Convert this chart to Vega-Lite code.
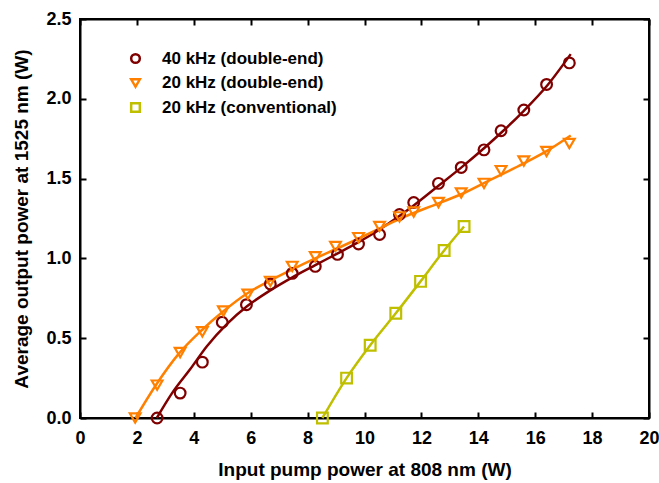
{
  "$schema": "https://vega.github.io/schema/vega-lite/v6.json",
  "width": 569,
  "height": 399,
  "autosize": {"type": "none"},
  "padding": {"left": 80, "top": 19, "right": 10, "bottom": 65},
  "background": "white",
  "config": {
    "view": {"stroke": "black", "strokeWidth": 2},
    "font": "Liberation Sans",
    "axis": {
      "labelFont": "Liberation Sans",
      "labelFontSize": 18,
      "labelFontWeight": "bold",
      "labelColor": "black",
      "labelFlush": false,
      "titleFont": "Liberation Sans",
      "titleFontSize": 19,
      "titleFontWeight": "bold",
      "titleColor": "black",
      "domainColor": "black",
      "domainWidth": 2,
      "tickColor": "black",
      "tickWidth": 2,
      "tickSize": -6,
      "grid": false
    },
    "legend": {
      "orient": "none",
      "legendX": 47,
      "legendY": 31,
      "title": null,
      "padding": 0,
      "symbolSize": 75,
      "symbolStrokeWidth": 2.5,
      "labelFont": "Liberation Sans",
      "labelFontSize": 17,
      "labelFontWeight": "bold",
      "labelColor": "black",
      "labelOffset": 18,
      "rowPadding": 5.5,
      "labelLimit": 400
    }
  },
  "datasets": {
    "fits": [
      {"series": "40 kHz (double-end)", "x": 2.7, "y": 0.0},
      {"series": "40 kHz (double-end)", "x": 3.23, "y": 0.154},
      {"series": "40 kHz (double-end)", "x": 3.87, "y": 0.305},
      {"series": "40 kHz (double-end)", "x": 4.46, "y": 0.45},
      {"series": "40 kHz (double-end)", "x": 5.17, "y": 0.59},
      {"series": "40 kHz (double-end)", "x": 5.87, "y": 0.7},
      {"series": "40 kHz (double-end)", "x": 6.69, "y": 0.8},
      {"series": "40 kHz (double-end)", "x": 7.45, "y": 0.88},
      {"series": "40 kHz (double-end)", "x": 8.27, "y": 0.958},
      {"series": "40 kHz (double-end)", "x": 9.04, "y": 1.03},
      {"series": "40 kHz (double-end)", "x": 9.74, "y": 1.097},
      {"series": "40 kHz (double-end)", "x": 10.45, "y": 1.172},
      {"series": "40 kHz (double-end)", "x": 11.2, "y": 1.262},
      {"series": "40 kHz (double-end)", "x": 11.74, "y": 1.333},
      {"series": "40 kHz (double-end)", "x": 12.6, "y": 1.455},
      {"series": "40 kHz (double-end)", "x": 13.44, "y": 1.575},
      {"series": "40 kHz (double-end)", "x": 14.23, "y": 1.695},
      {"series": "40 kHz (double-end)", "x": 14.85, "y": 1.795},
      {"series": "40 kHz (double-end)", "x": 15.6, "y": 1.925},
      {"series": "40 kHz (double-end)", "x": 16.43, "y": 2.085},
      {"series": "40 kHz (double-end)", "x": 17.25, "y": 2.28},
      {"series": "20 kHz (double-end)", "x": 1.95, "y": 0.0},
      {"series": "20 kHz (double-end)", "x": 2.7, "y": 0.215},
      {"series": "20 kHz (double-end)", "x": 3.46, "y": 0.4},
      {"series": "20 kHz (double-end)", "x": 4.28, "y": 0.55},
      {"series": "20 kHz (double-end)", "x": 5.05, "y": 0.67},
      {"series": "20 kHz (double-end)", "x": 5.87, "y": 0.78},
      {"series": "20 kHz (double-end)", "x": 6.69, "y": 0.862},
      {"series": "20 kHz (double-end)", "x": 7.45, "y": 0.93},
      {"series": "20 kHz (double-end)", "x": 8.27, "y": 1.0},
      {"series": "20 kHz (double-end)", "x": 9.04, "y": 1.062},
      {"series": "20 kHz (double-end)", "x": 9.74, "y": 1.12},
      {"series": "20 kHz (double-end)", "x": 10.5, "y": 1.185},
      {"series": "20 kHz (double-end)", "x": 11.2, "y": 1.245},
      {"series": "20 kHz (double-end)", "x": 12.6, "y": 1.345},
      {"series": "20 kHz (double-end)", "x": 13.44, "y": 1.405},
      {"series": "20 kHz (double-end)", "x": 14.23, "y": 1.475},
      {"series": "20 kHz (double-end)", "x": 15.6, "y": 1.595},
      {"series": "20 kHz (double-end)", "x": 16.43, "y": 1.675},
      {"series": "20 kHz (double-end)", "x": 17.25, "y": 1.77},
      {"series": "20 kHz (conventional)", "x": 8.52, "y": 0.0},
      {"series": "20 kHz (conventional)", "x": 9.37, "y": 0.25},
      {"series": "20 kHz (conventional)", "x": 10.2, "y": 0.456},
      {"series": "20 kHz (conventional)", "x": 11.1, "y": 0.656},
      {"series": "20 kHz (conventional)", "x": 11.97, "y": 0.856},
      {"series": "20 kHz (conventional)", "x": 12.8, "y": 1.05},
      {"series": "20 kHz (conventional)", "x": 13.5, "y": 1.2}
    ],
    "points": [
      {"series": "40 kHz (double-end)", "x": 2.71, "y": 0.0},
      {"series": "40 kHz (double-end)", "x": 3.52, "y": 0.156},
      {"series": "40 kHz (double-end)", "x": 4.3, "y": 0.35},
      {"series": "40 kHz (double-end)", "x": 5.0, "y": 0.6},
      {"series": "40 kHz (double-end)", "x": 5.85, "y": 0.71},
      {"series": "40 kHz (double-end)", "x": 6.69, "y": 0.84},
      {"series": "40 kHz (double-end)", "x": 7.46, "y": 0.906},
      {"series": "40 kHz (double-end)", "x": 8.27, "y": 0.95},
      {"series": "40 kHz (double-end)", "x": 9.05, "y": 1.025},
      {"series": "40 kHz (double-end)", "x": 9.79, "y": 1.09},
      {"series": "40 kHz (double-end)", "x": 10.53, "y": 1.15},
      {"series": "40 kHz (double-end)", "x": 11.23, "y": 1.275},
      {"series": "40 kHz (double-end)", "x": 11.73, "y": 1.35},
      {"series": "40 kHz (double-end)", "x": 12.6, "y": 1.47},
      {"series": "40 kHz (double-end)", "x": 13.4, "y": 1.57},
      {"series": "40 kHz (double-end)", "x": 14.2, "y": 1.68},
      {"series": "40 kHz (double-end)", "x": 14.8, "y": 1.8},
      {"series": "40 kHz (double-end)", "x": 15.6, "y": 1.93},
      {"series": "40 kHz (double-end)", "x": 16.4, "y": 2.09},
      {"series": "40 kHz (double-end)", "x": 17.2, "y": 2.225},
      {"series": "20 kHz (double-end)", "x": 1.94, "y": 0.0},
      {"series": "20 kHz (double-end)", "x": 2.71, "y": 0.206},
      {"series": "20 kHz (double-end)", "x": 3.52, "y": 0.41},
      {"series": "20 kHz (double-end)", "x": 4.3, "y": 0.54},
      {"series": "20 kHz (double-end)", "x": 5.04, "y": 0.67},
      {"series": "20 kHz (double-end)", "x": 5.9, "y": 0.775},
      {"series": "20 kHz (double-end)", "x": 6.69, "y": 0.856},
      {"series": "20 kHz (double-end)", "x": 7.46, "y": 0.95},
      {"series": "20 kHz (double-end)", "x": 8.27, "y": 1.01},
      {"series": "20 kHz (double-end)", "x": 8.98, "y": 1.075},
      {"series": "20 kHz (double-end)", "x": 9.79, "y": 1.13},
      {"series": "20 kHz (double-end)", "x": 10.53, "y": 1.2},
      {"series": "20 kHz (double-end)", "x": 11.23, "y": 1.26},
      {"series": "20 kHz (double-end)", "x": 11.73, "y": 1.29},
      {"series": "20 kHz (double-end)", "x": 12.6, "y": 1.35},
      {"series": "20 kHz (double-end)", "x": 13.4, "y": 1.41},
      {"series": "20 kHz (double-end)", "x": 14.2, "y": 1.47},
      {"series": "20 kHz (double-end)", "x": 14.8, "y": 1.55},
      {"series": "20 kHz (double-end)", "x": 15.6, "y": 1.61},
      {"series": "20 kHz (double-end)", "x": 16.4, "y": 1.67},
      {"series": "20 kHz (double-end)", "x": 17.2, "y": 1.72},
      {"series": "20 kHz (conventional)", "x": 8.52, "y": 0.0},
      {"series": "20 kHz (conventional)", "x": 9.37, "y": 0.25},
      {"series": "20 kHz (conventional)", "x": 10.2, "y": 0.456},
      {"series": "20 kHz (conventional)", "x": 11.1, "y": 0.656},
      {"series": "20 kHz (conventional)", "x": 11.97, "y": 0.856},
      {"series": "20 kHz (conventional)", "x": 12.8, "y": 1.05},
      {"series": "20 kHz (conventional)", "x": 13.5, "y": 1.2}
    ]
  },
  "layer": [
    {
      "data": {"name": "fits"},
      "mark": {"type": "line", "strokeWidth": 2.5, "interpolate": "monotone"},
      "encoding": {
        "x": {"field": "x", "type": "quantitative",
              "scale": {"domain": [0, 20], "nice": false},
              "axis": {"orient": "bottom", "values": [0,2,4,6,8,10,12,14,16,18,20], "title": "Input pump power at 808 nm (W)", "labelPadding": 17, "titlePadding": 13}},
        "y": {"field": "y", "type": "quantitative",
              "scale": {"domain": [0, 2.5], "nice": false},
              "axis": {"orient": "left", "values": [0,0.5,1,1.5,2,2.5], "format": ".1f", "title": "Average output power at 1525 nm (W)", "labelPadding": 15, "titlePadding": 14}},
        "color": {"field": "series", "type": "nominal",
                  "scale": {"domain": ["40 kHz (double-end)", "20 kHz (double-end)", "20 kHz (conventional)"], "range": ["#800000", "#FF8000", "#BFBF00"]}},
        "detail": {"field": "series"}
      }
    },
    {
      "data": {"name": "points"},
      "mark": {"type": "point", "filled": false, "strokeWidth": 2.2, "size": 115, "opacity": 1},
      "encoding": {
        "x": {"field": "x", "type": "quantitative",
              "scale": {"domain": [0, 20], "nice": false},
              "axis": {"orient": "top", "values": [0,2,4,6,8,10,12,14,16,18,20], "labels": false, "title": null}},
        "y": {"field": "y", "type": "quantitative",
              "scale": {"domain": [0, 2.5], "nice": false},
              "axis": {"orient": "right", "values": [0,0.5,1,1.5,2,2.5], "labels": false, "title": null}},
        "color": {"field": "series", "type": "nominal",
                  "scale": {"domain": ["40 kHz (double-end)", "20 kHz (double-end)", "20 kHz (conventional)"], "range": ["#800000", "#FF8000", "#BFBF00"]}},
        "shape": {"field": "series", "type": "nominal",
                  "scale": {"domain": ["40 kHz (double-end)", "20 kHz (double-end)", "20 kHz (conventional)"], "range": ["circle", "triangle-down", "square"]}}
      }
    }
  ],
  "resolve": {"axis": {"x": "independent", "y": "independent"}}
}
